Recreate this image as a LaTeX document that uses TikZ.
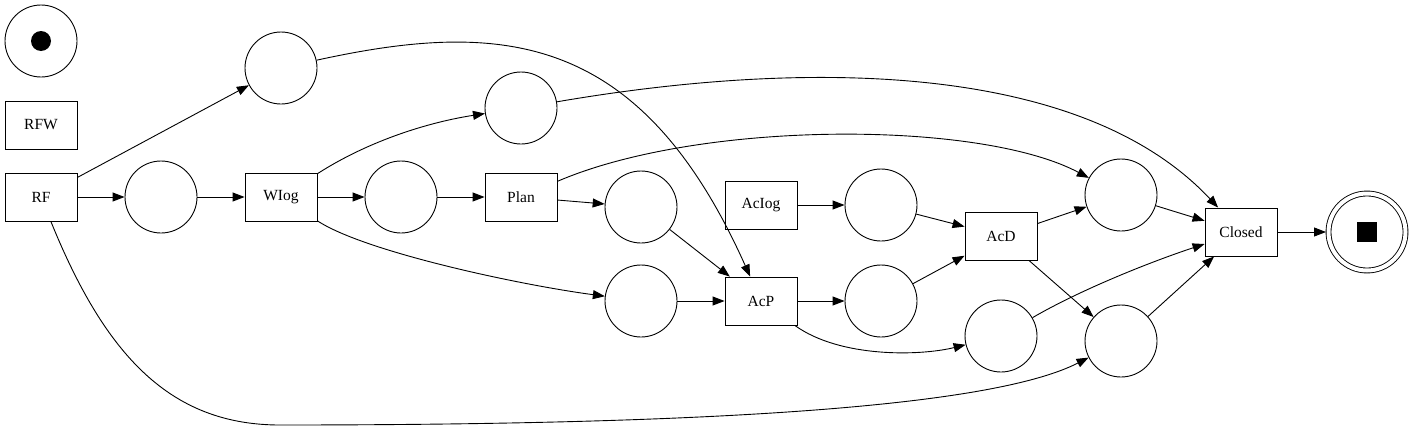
\documentclass[tikz,border=0pt]{standalone}
\usepackage{fontspec}
\setmainfont{Liberation Serif}
\usetikzlibrary{arrows.meta}

\begin{document}
\begin{tikzpicture}[x=1pt, y=-1pt, line width=0.9pt,
    place/.style={draw, circle, minimum size=72pt, inner sep=0pt},
    trans/.style={draw, rectangle, minimum width=72pt, minimum height=48pt, inner sep=0pt, font=\rmfamily\fontsize{15.5}{18}\selectfont},
    arc/.style={-{Triangle[length=12pt,width=9pt]}}]
    \useasboundingbox (0,0) rectangle (1413,431);

    % start and end places
    \node [place] (source) at (41,41) {};
    \fill (source) circle (10pt);
    \node [place, double, double distance=4pt, minimum size=77pt, outer sep=2.5pt] (sink) at (1367,232) {};
    \fill (sink.center) ++(-10,-10) rectangle ++(20,20);

    % transitions
    \node [trans] (rfw) at (41,125) {RFW};
    \node [trans] (rf) at (41,197) {RF};
    \node [trans] (wiog) at (281,197) {WIog};
    \node [trans] (plan) at (521,197) {Plan};
    \node [trans] (aciog) at (761,205) {AcIog};
    \node [trans] (acp) at (761,301) {AcP};
    \node [trans] (acd) at (1001,236) {AcD};
    \node [trans] (closed) at (1241,232) {Closed};

    % places
    \node [place] (p1) at (161,197) {};
    \node [place] (p2) at (281,68) {};
    \node [place] (p3) at (401,197) {};
    \node [place] (p4) at (521,108) {};
    \node [place] (p5) at (641,207) {};
    \node [place] (p6) at (641,301) {};
    \node [place] (p7) at (881,205) {};
    \node [place] (p8) at (881,301) {};
    \node [place] (p9) at (1001,336) {};
    \node [place] (p10) at (1121,195) {};
    \node [place] (p11) at (1121,341) {};

    % arcs
    \draw [arc] (rf) -- (p1);
    \draw [arc] (p1) -- (wiog);
    \draw [arc] (rf) -- (p2);
    \draw [arc] (rf) .. controls (105,355) and (170,425) .. (280,425)
        .. controls (700,425) and (990,408) .. (p11);
    \draw [arc] (wiog) -- (p3);
    \draw [arc] (wiog) .. controls (370,140) and (430,122) .. (p4);
    \draw [arc] (wiog) .. controls (365,252) and (520,285) .. (p6);
    \draw [arc] (p3) -- (plan);
    \draw [arc] (plan) -- (p5);
    \draw [arc] (plan) .. controls (700,120) and (980,120) .. (p10);
    \draw [arc] (p2) .. controls (500,20) and (640,30) .. (acp);
    \draw [arc] (p4) .. controls (800,60) and (1080,60) .. (closed);
    \draw [arc] (p5) -- (acp);
    \draw [arc] (p6) -- (acp);
    \draw [arc] (aciog) -- (p7);
    \draw [arc] (p7) -- (acd);
    \draw [arc] (acp) -- (p8);
    \draw [arc] (p8) -- (acd);
    \draw [arc] (acp) .. controls (840,358) and (920,356) .. (p9);
    \draw [arc] (acd) -- (p10);
    \draw [arc] (acd) -- (p11);
    \draw [arc] (p10) -- (closed);
    \draw [arc] (p9) .. controls (1080,290) and (1150,262) .. (closed);
    \draw [arc] (p11) -- (closed);
    \draw [arc] (closed) -- (sink);
\end{tikzpicture}
\end{document}
